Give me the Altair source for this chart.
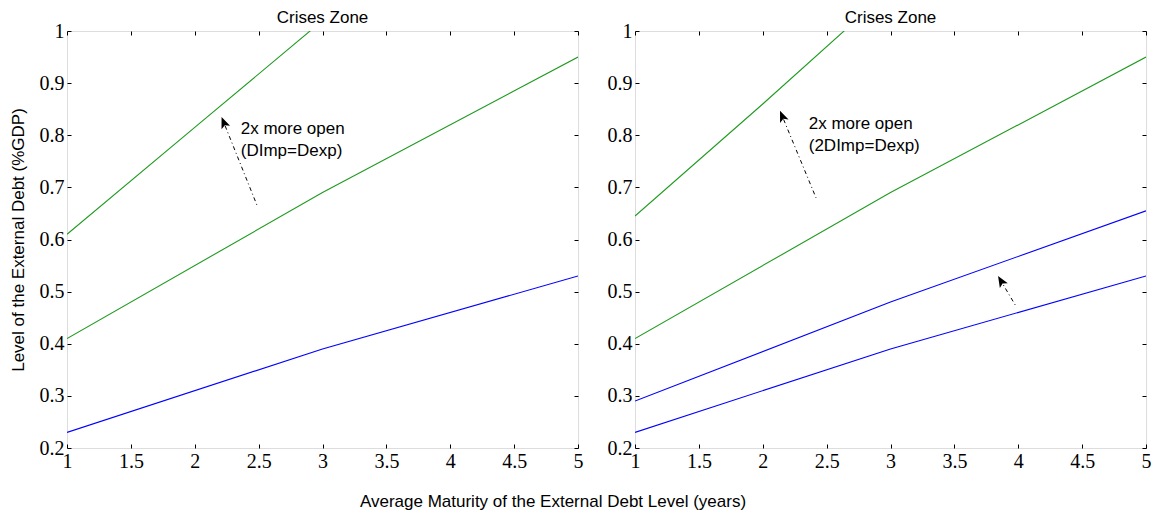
import math
import altair as alt
import pandas as pd

# ---------------- data ----------------
x_ticks = [1, 1.5, 2, 2.5, 3, 3.5, 4, 4.5, 5]
y_ticks = [0.2, 0.3, 0.4, 0.5, 0.6, 0.7, 0.8, 0.9, 1.0]

# left panel
L_green_top_x = [1, 2, 3]
L_green_top_y = [0.61, 0.815, 1.02]
L_green_bot_x = [1, 3, 5]
L_green_bot_y = [0.41, 0.69, 0.95]
L_blue_x = [1, 3, 5]
L_blue_y = [0.23, 0.39, 0.53]

# right panel
R_green_top_x = [1, 2, 3]
R_green_top_y = [0.645, 0.86, 1.08]
R_green_bot_x = [1, 3, 5]
R_green_bot_y = [0.41, 0.69, 0.95]
R_blue_top_x = [1, 3, 5]
R_blue_top_y = [0.29, 0.48, 0.655]
R_blue_bot_x = [1, 3, 5]
R_blue_bot_y = [0.23, 0.39, 0.53]

# arrows: tail (x, y) -> tip (x, y)
L_arrow_tail_x = [2.49]
L_arrow_tail_y = [0.664]
L_arrow_tip_x = [2.21]
L_arrow_tip_y = [0.835]

R_arrow_tail_x = [2.417, 3.982]
R_arrow_tail_y = [0.680, 0.472]
R_arrow_tip_x = [2.135, 3.842]
R_arrow_tip_y = [0.847, 0.530]

# annotation texts
L_text = ["2x more open", "(DImp=Dexp)"]
L_text_x = [2.36, 2.36]
L_text_y = [0.812, 0.770]
R_text = ["2x more open", "(2DImp=Dexp)"]
R_text_x = [2.36, 2.36]
R_text_y = [0.822, 0.779]

panel_title = "Crises Zone"
y_title = "Level of the External Debt (%GDP)"
x_title = "Average Maturity of the External Debt Level (years)"

GREEN = "#1f9a1f"
BLUE = "#0000ff"
FONT = "Liberation Sans"
TICK_FONT = "Liberation Sans Narrow"

W, H = 511, 417
XDOM, YDOM = [1, 5], [0.2, 1.0]
PX_X = W / (XDOM[1] - XDOM[0])
PX_Y = H / (YDOM[1] - YDOM[0])

HEAD_PATH = "M0,0L-0.55,1.35L0,1.05L0.55,1.35Z"


def lines_frame(series):
    rows = []
    for name, color, xs, ys in series:
        for x, y in zip(xs, ys):
            rows.append({"series": name, "color": color, "x": x, "y": y})
    return pd.DataFrame(rows)


def arrows_frames(tx, ty, hx, hy):
    seg = []
    heads = []
    for i, (a, b, c, d) in enumerate(zip(tx, ty, hx, hy)):
        seg.append({"id": i, "x": a, "y": b})
        # stop the dash-dot line a little before the tip (under the head)
        seg.append({"id": i, "x": a + (c - a) * 0.9, "y": b + (d - b) * 0.9})
        dxp = (c - a) * PX_X
        dyp = -(d - b) * PX_Y
        ang = math.degrees(math.atan2(dxp, -dyp)) % 360
        heads.append({"id": i, "x": c, "y": d, "angle": ang})
    return pd.DataFrame(seg), pd.DataFrame(heads)


def panel(series, tx, ty, hx, hy, texts, txs, tys, show_ytitle):
    xs = alt.Scale(domain=XDOM, nice=False, zero=False)
    ys = alt.Scale(domain=YDOM, nice=False, zero=False)
    xaxis = alt.Axis(values=x_ticks, format="~g", domain=False, offset=-4,
                     tickSize=4, tickColor="black", tickWidth=1,
                     labelPadding=3, labelFont=TICK_FONT, labelFontSize=20,
                     labelColor="black", labelFlush=False, grid=False, title=None)
    yaxis = alt.Axis(values=y_ticks, format="~g", domain=False, offset=-4,
                     tickSize=4, tickColor="black", tickWidth=1,
                     labelPadding=3, labelFont=TICK_FONT, labelFontSize=20,
                     labelColor="black", labelFlush=False, grid=False,
                     title=y_title if show_ytitle else None,
                     titleFont=FONT, titleFontSize=17, titleFontWeight="normal",
                     titleColor="black", titlePadding=12)

    df = lines_frame(series)
    lines = alt.Chart(df).mark_line(strokeWidth=1.1, clip=True).encode(
        x=alt.X("x:Q", scale=xs, axis=xaxis),
        y=alt.Y("y:Q", scale=ys, axis=yaxis),
        color=alt.Color("color:N", scale=None),
        detail="series:N",
    )

    seg, heads = arrows_frames(tx, ty, hx, hy)
    arr = alt.Chart(seg).mark_line(color="black", strokeWidth=1,
                                   strokeDash=[4, 3, 1, 3]).encode(
        x="x:Q", y="y:Q", detail="id:N")
    hd = alt.Chart(heads).mark_point(shape=HEAD_PATH, filled=True, color="black",
                                     opacity=1, size=280).encode(
        x="x:Q", y="y:Q", angle=alt.Angle("angle:Q", scale=None))

    tdf = pd.DataFrame({"t": texts, "x": txs, "y": tys})
    txt = alt.Chart(tdf).mark_text(align="left", baseline="middle", font=FONT,
                                   fontSize=17, color="black").encode(
        x="x:Q", y="y:Q", text="t:N")

    main = alt.layer(lines, arr, hd, txt)

    # mirror ticks on top and right edges
    tick_df = pd.DataFrame({"x": [XDOM[0]], "y": [YDOM[0]]})
    mirror = alt.Chart(tick_df).mark_point(opacity=0).encode(
        x=alt.X("x:Q", scale=xs, axis=alt.Axis(orient="top", values=x_ticks,
                labels=False, domain=False, offset=-4, tickSize=4,
                tickColor="black", grid=False, title=None)),
        y=alt.Y("y:Q", scale=ys, axis=alt.Axis(orient="right", values=y_ticks,
                labels=False, domain=False, offset=-4, tickSize=4,
                tickColor="black", grid=False, title=None)),
    )

    return alt.layer(main, mirror).resolve_axis(x="independent", y="independent").properties(
        width=W, height=H,
        title=alt.TitleParams(panel_title, font=FONT, fontSize=17,
                              fontWeight="normal", color="black", offset=-6),
    )


left = panel(
    [("gt", GREEN, L_green_top_x, L_green_top_y),
     ("gb", GREEN, L_green_bot_x, L_green_bot_y),
     ("b", BLUE, L_blue_x, L_blue_y)],
    L_arrow_tail_x, L_arrow_tail_y, L_arrow_tip_x, L_arrow_tip_y,
    L_text, L_text_x, L_text_y, True)

right = panel(
    [("gt", GREEN, R_green_top_x, R_green_top_y),
     ("gb", GREEN, R_green_bot_x, R_green_bot_y),
     ("bt", BLUE, R_blue_top_x, R_blue_top_y),
     ("bb", BLUE, R_blue_bot_x, R_blue_bot_y)],
    R_arrow_tail_x, R_arrow_tail_y, R_arrow_tip_x, R_arrow_tip_y,
    R_text, R_text_x, R_text_y, False)

chart = alt.hconcat(left, right, spacing=22).properties(
    title=alt.TitleParams(x_title, orient="bottom", anchor="middle", font=FONT,
                          fontSize=17, fontWeight="normal", color="black",
                          offset=22, dx=-27),
    padding={"left": 0, "top": 0, "right": 0, "bottom": 0},
).configure_view(stroke="black", strokeWidth=1).configure(background="white")

chart.save("out.html", embed_options={"renderer": "svg", "actions": False})
